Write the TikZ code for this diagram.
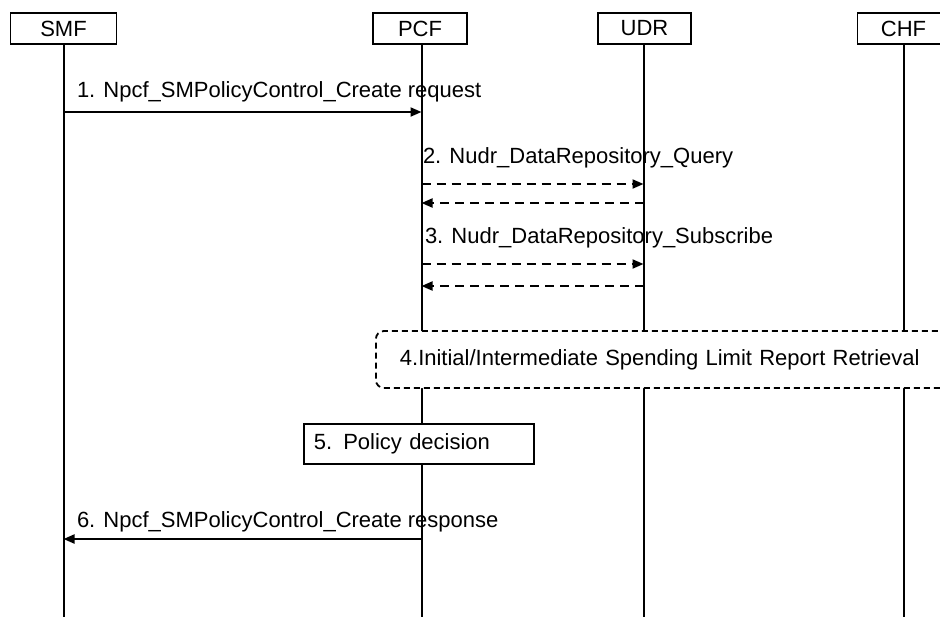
\documentclass[tikz,border=0pt]{standalone}
\usepackage{fontspec}
\setmainfont{Liberation Sans}
\usetikzlibrary{arrows.meta}

\begin{document}
\begin{tikzpicture}[x=1pt,y=-1pt,line width=2pt,
  font=\fontsize{22}{26}\selectfont,
  nf/.style={draw,fill=white,minimum height=31pt,inner sep=0pt,line width=1.8pt},
  lbl/.style={anchor=west,inner sep=0pt},
  msg/.style={-{Triangle[length=11pt,width=9pt]}},
  dmsg/.style={msg,dash pattern=on 9pt off 6pt}]
\clip (0,0) rectangle (940,616);
\node [nf,minimum width=106pt] (smf) at (63.5,28.5) {SMF};
\node [nf,minimum width=94pt] (pcf) at (420,28.5) {PCF};
\node [nf,minimum width=93pt] (udr) at (644.5,28.5) {UDR};
\node [nf,minimum width=92pt] (chf) at (903.5,28.5) {CHF};
\coordinate (smfend) at (63.5,620);
\coordinate (pcfend) at (421.5,620);
\coordinate (udrend) at (643.5,620);
\coordinate (chfend) at (903.5,620);
\draw (smf.south -| smfend) -- (smfend);
\draw (pcf.south -| pcfend) -- (pcfend);
\draw (udr.south -| udrend) -- (udrend);
\draw (chf.south -| chfend) -- (chfend);

\coordinate (s1) at (63.5,112);
\coordinate (p1) at (421.5,112);
\node [lbl] (m1) at (76,92) {1. Npcf\_SMPolicyControl\_Create request};
\draw [msg] (s1) -- (p1);

\coordinate (p2) at (421.5,184);
\coordinate (u2) at (643.5,184);
\coordinate (u3) at (643.5,203);
\coordinate (p3) at (421.5,203);
\node [lbl] (m2) at (422,158) {2. Nudr\_DataRepository\_Query};
\draw [dmsg] (p2) -- (u2);
\draw [dmsg] (u3) -- (p3);

\coordinate (p4) at (421.5,264);
\coordinate (u4) at (643.5,264);
\coordinate (u5) at (643.5,286);
\coordinate (p5) at (421.5,286);
\node [lbl] (m3) at (424,238) {3. Nudr\_DataRepository\_Subscribe};
\draw [dmsg] (p4) -- (u4);
\draw [dmsg] (u5) -- (p5);

\node [draw,fill=white,line width=1.8pt,dash pattern=on 6pt off 4pt,rounded corners=8pt,
  anchor=west,minimum height=57pt,text width=542pt,inner xsep=24pt,inner ysep=0pt,align=left]
  (srr) at (375,359.5) {4.Initial/Intermediate Spending Limit Report Retrieval};

\node [draw,fill=white,line width=1.8pt,anchor=west,minimum height=40pt,text width=210pt,
  inner xsep=10pt,inner ysep=0pt,align=left] (pd) at (303,444) {5. Policy decision};

\coordinate (p6) at (421.5,539);
\coordinate (s6) at (63.5,539);
\node [lbl] (m6) at (76,522) {6. Npcf\_SMPolicyControl\_Create response};
\draw [msg] (p6) -- (s6);
\end{tikzpicture}
\end{document}
